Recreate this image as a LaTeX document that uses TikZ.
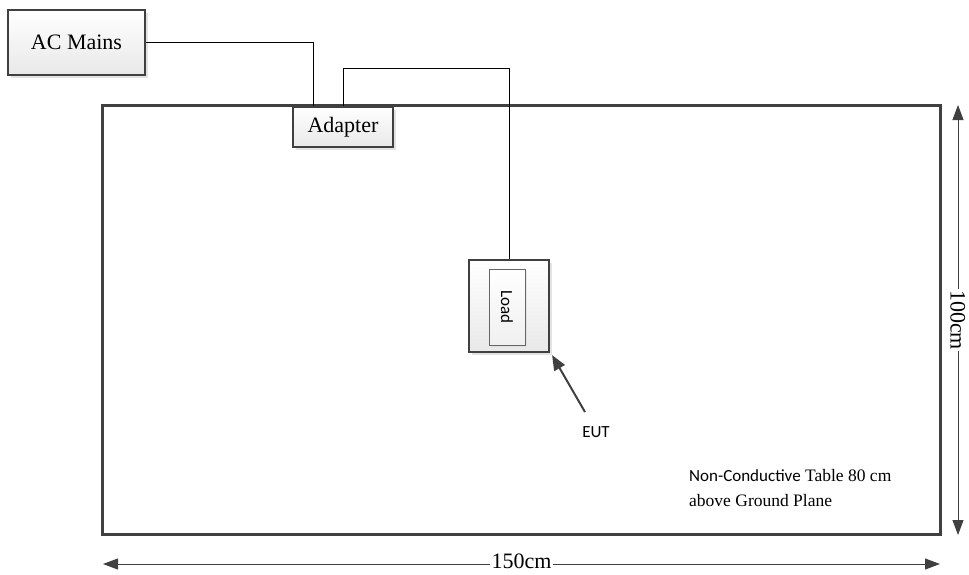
\documentclass[tikz,border=0pt]{standalone}
\usepackage{fontspec}
\setmainfont{Liberation Serif}
\setsansfont{Carlito}
\usetikzlibrary{arrows.meta,shadows}
\definecolor{edge}{HTML}{404040}
\begin{document}
\begin{tikzpicture}[x=1pt,y=-1pt,
  box/.style={draw=edge, line width=2.2pt, top color=white, bottom color=black!9,
    drop shadow={shadow xshift=3pt,shadow yshift=-3pt,fill=black!22},
    inner sep=0pt, font=\fontsize{22}{26}\selectfont},
  thinbox/.style={draw=edge!80, line width=1pt, top color=white, bottom color=black!6,
    drop shadow={shadow xshift=2pt,shadow yshift=-2pt,fill=black!15},
    inner sep=0pt},
  tablebox/.style={draw=edge, line width=3pt, inner sep=0pt},
  wire/.style={draw=black, line width=0.9pt},
  pointer/.style={draw=edge, line width=2pt, -{Triangle[length=15pt,width=12pt]}},
  dim/.style={draw=edge, line width=1pt, {Triangle[length=15pt,width=11pt]}-{Triangle[length=15pt,width=11pt]}},
  dimlabel/.style={fill=white, inner xsep=1.5pt, inner ysep=0pt, text height=15pt, text depth=0pt,
    font=\fontsize{22}{26}\selectfont},
  sanslabel/.style={font=\sffamily\fontsize{17}{20}\selectfont, inner sep=0pt}
  ]
\useasboundingbox (0,0) rectangle (969,574);

% table
\node[tablebox, minimum width=838pt, minimum height=429pt] (table) at (521,319.5) {};

% boxes
\node[box, minimum width=137pt, minimum height=65pt] (acmains) at (76.5,42.5) {AC Mains};
\node[box, minimum width=100pt, minimum height=40pt] (adapter) at (343,127) {Adapter};
\node[box, minimum width=80pt, minimum height=92pt] (eutbox) at (509,306) {};
\node[thinbox, minimum width=36pt, minimum height=76pt] (load) at (507,307) {};
\node[sanslabel, rotate=-90] (loadtext) at (load.center) {Load};

% wires
\draw[wire] (acmains.east) -| ([xshift=-30pt]adapter.north);
\coordinate (bend) at (343,68);
\draw[wire] (adapter.north) -- (bend) -| (eutbox.north);

% EUT pointer
\node[sanslabel] (eut) at (596,432) {EUT};
\coordinate (euttail) at (585,412);
\draw[pointer] (euttail) -- ([xshift=2pt,yshift=-2pt]eutbox.south east);

% table label
\node[anchor=base west, inner sep=0pt, font=\fontsize{17.5}{20}\selectfont] (tl1) at (689,481)
  {{\sffamily\fontsize{17}{20}\selectfont Non-Conductive} Table 80 cm};
\node[anchor=base west, inner sep=0pt, font=\fontsize{17.5}{20}\selectfont] (tl2) at (689,506)
  {above Ground Plane};

% dimensions
\coordinate (hl) at (103,564);
\coordinate (hr) at (940,564);
\draw[dim] (hl) -- node[dimlabel, yshift=3pt] (w) {150cm} (hr);
\coordinate (vt) at (958,105);
\coordinate (vb) at (958,535);
\draw[dim] (vt) -- node[dimlabel, rotate=-90, xshift=0pt] (h) {100cm} (vb);
\end{tikzpicture}
\end{document}
